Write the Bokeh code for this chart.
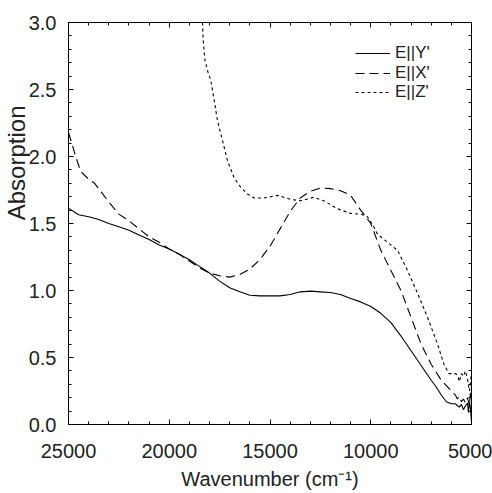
from bokeh.plotting import figure
from bokeh.models import Range1d, FixedTicker, LinearAxis, Title, Legend, LegendItem, NumeralTickFormatter
from bokeh.embed import file_html
from bokeh.resources import INLINE

# ---- data ----
wn_y = [25000, 24500, 24000, 23500, 23000, 22500, 22000, 21500, 21000, 20500, 20000,
        19500, 19000, 18500, 18000, 17500, 17000, 16500, 16000, 15500, 15000, 14500,
        14000, 13500, 13000, 12500, 12000, 11500, 11000, 10500, 10000, 9500, 9000,
        8500, 8000, 7500, 7000, 6750, 6500, 6250, 6000, 5800, 5700, 5600, 5500, 5400,
        5300, 5200, 5150, 5100, 5050, 5000]
abs_y = [1.615, 1.565, 1.55, 1.53, 1.50, 1.475, 1.45, 1.415, 1.38, 1.34, 1.31,
         1.27, 1.23, 1.18, 1.13, 1.07, 1.02, 0.99, 0.965, 0.96, 0.96, 0.96,
         0.97, 0.99, 0.995, 0.99, 0.985, 0.97, 0.94, 0.915, 0.88, 0.83, 0.76,
         0.66, 0.55, 0.44, 0.33, 0.28, 0.22, 0.17, 0.155, 0.155, 0.14, 0.13, 0.15, 0.11,
         0.14, 0.16, 0.09, 0.17, 0.12, 0.02]

wn_x = [25000, 24800, 24600, 24400, 24000, 23700, 23500, 23000, 22500, 22000, 21500,
        21000, 20500, 20000, 19500, 19000, 18500, 18000, 17500, 17000, 16500, 16000,
        15500, 15000, 14500, 14000, 13500, 13000, 12500, 12000, 11500, 11000, 10500,
        10000, 9500, 9000, 8500, 8000, 7500, 7000, 6500, 6000, 5800, 5700, 5600, 5500,
        5400, 5300, 5200, 5100, 5050, 5000]
abs_x = [2.18, 2.08, 1.98, 1.89, 1.83, 1.80, 1.76, 1.66, 1.57, 1.52, 1.46,
         1.40, 1.36, 1.31, 1.27, 1.22, 1.17, 1.13, 1.11, 1.10, 1.12, 1.16,
         1.23, 1.33, 1.46, 1.59, 1.69, 1.74, 1.765, 1.76, 1.745, 1.71, 1.60,
         1.50, 1.30, 1.15, 1.00, 0.80, 0.60, 0.45, 0.33, 0.25, 0.22, 0.19, 0.21, 0.17,
         0.19, 0.16, 0.20, 0.14, 0.25, 0.20]

wn_z = [18350, 18320, 18230, 18100, 17940, 17770, 17610, 17360, 17110, 16780, 16450,
        16120, 15790, 15300, 14630, 13970, 13470, 12830, 12330, 11650, 10990, 10500,
        10160, 9830, 9665, 9168, 8672, 8176, 7679, 7183, 6687, 6370, 6122, 6000, 5800,
        5700, 5600, 5500, 5400, 5300, 5200, 5100, 5000]
abs_z = [3.0, 2.88, 2.72, 2.64, 2.57, 2.42, 2.27, 2.12, 1.97, 1.84, 1.77,
         1.72, 1.69, 1.69, 1.71, 1.68, 1.67, 1.695, 1.67, 1.61, 1.575, 1.57,
         1.55, 1.47, 1.42, 1.36, 1.30, 1.15, 0.98, 0.80, 0.60, 0.45, 0.38, 0.38, 0.38,
         0.37, 0.32, 0.38, 0.36, 0.40, 0.34, 0.25, 0.39]

x_major = [5000, 10000, 15000, 20000, 25000]
x_minor = list(range(5000, 25001, 1000))
y_major = [0.0, 0.5, 1.0, 1.5, 2.0, 2.5, 3.0]
y_minor = [round(i * 0.1, 1) for i in range(0, 31)]

labels = ["E||Y'", "E||X'", "E||Z'"]

FONT = "Liberation Sans"
TXT = "#222222"

p = figure(width=492, height=493, output_backend="svg", toolbar_location=None,
           x_range=Range1d(25000, 5000), y_range=Range1d(0, 3.0),
           min_border_left=68, min_border_right=21, min_border_top=22, min_border_bottom=69)
p.xgrid.visible = False
p.ygrid.visible = False
p.outline_line_color = "black"
p.background_fill_color = "white"
p.border_fill_color = "white"

r1 = p.line(wn_y, abs_y, line_color="black", line_width=1.1)
r2 = p.line(wn_x, abs_x, line_color="black", line_width=1.1, line_dash="9 5")
r3 = p.line(wn_z, abs_z, line_color="black", line_width=1.1, line_dash="3 3")

def style(ax, ticks, minor, show_labels):
    ax.ticker = FixedTicker(ticks=ticks, minor_ticks=minor)
    ax.axis_line_color = "black"
    ax.major_tick_line_color = "black"
    ax.minor_tick_line_color = "black"
    ax.major_tick_in = 5
    ax.major_tick_out = 0
    ax.minor_tick_in = 3
    ax.minor_tick_out = 0
    if show_labels:
        ax.major_label_text_font = FONT
        ax.major_label_text_font_size = "20px"
        ax.major_label_text_color = TXT
    else:
        ax.major_label_overrides = {t: "" for t in ticks}
        ax.major_label_text_font_size = "1px"
        ax.major_label_standoff = 0

xa = p.xaxis[0]
style(xa, x_major, x_minor, True)
xa.major_label_standoff = 19
xa.axis_label = "Wavenumber (cm\u207b\u00b9)"
xa.axis_label_text_font = FONT
xa.axis_label_text_font_size = "20px"
xa.axis_label_text_font_style = "normal"
xa.axis_label_text_color = TXT
xa.axis_label_standoff = 7

ya = p.yaxis[0]
style(ya, y_major, y_minor, True)
ya.major_label_standoff = 12
ya.formatter = NumeralTickFormatter(format="0.0")

top = LinearAxis()
style(top, x_major, x_minor, False)
p.add_layout(top, "above")
right = LinearAxis()
style(right, y_major, y_minor, False)
p.add_layout(right, "right")

ytitle = Title(text="Absorption", align="right", offset=83, standoff=-9,
               text_font=FONT, text_font_size="24px", text_font_style="normal",
               text_color=TXT)
p.add_layout(ytitle, "left")

# one legend box per entry so that the row pitch can follow the reference
renderers = [r1, r2, r3]
bottoms = [361, 341, 322]
for lab, rend, b in zip(labels, renderers, bottoms):
    lg = Legend(items=[LegendItem(label=lab, renderers=[rend])], location=(287, b))
    lg.background_fill_alpha = 0
    lg.border_line_alpha = 0
    lg.label_text_font = FONT
    lg.label_text_font_size = "17px"
    lg.label_text_color = TXT
    lg.glyph_width = 35
    lg.glyph_height = 18
    lg.label_height = 18
    lg.label_standoff = 5
    lg.padding = 0
    lg.margin = 0
    p.add_layout(lg)

open("out.html", "w").write(file_html(p, INLINE))
